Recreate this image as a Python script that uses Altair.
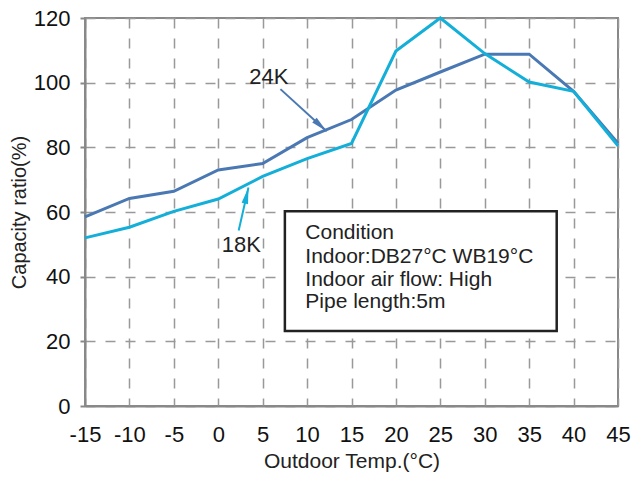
import math
import altair as alt
import pandas as pd

# ---- data ----
temps = [-15, -10, -5, 0, 5, 10, 15, 20, 25, 30, 35, 40, 45]
cap_24k = [58.5, 64.2, 66.4, 73.0, 75.0, 83.0, 88.6, 97.7, 103.3, 108.8, 108.8, 97.3, 81.3]
cap_18k = [52.0, 55.3, 60.2, 64.0, 71.0, 76.5, 81.2, 109.8, 120.0, 109.0, 100.2, 97.3, 80.5]
series_names = ["24K", "18K"]
series_colors = ["#4a78b3", "#14afd8"]
x_ticks = list(range(-15, 50, 5))
y_ticks = list(range(0, 140, 20))

# annotation arrows (data units)
arrow_tail_x = [7.0, 2.3]
arrow_tail_y = [98.0, 54.3]
arrow_tip_x = [12.2, 3.4]
arrow_tip_y = [85.0, 67.6]
label_x = [5.7, 2.6]
label_y = [101.6, 49.7]

# condition box
condition_lines = ["Condition", "Indoor:DB27°C WB19°C", "Indoor air flow: High", "Pipe length:5m"]
box_x = [7.5, 38.1]
box_y = [23.2, 60.2]
text_x = 9.8
text_y = [51.8, 44.1, 37.0, 30.2]

W, H = 533, 388
FONT = "Liberation Sans"

xs = alt.Scale(domain=[-15, 45], nice=False, zero=False)
ys = alt.Scale(domain=[0, 120], nice=False)
cs = alt.Scale(domain=series_names, range=series_colors)

rows = []
for t, a, b in zip(temps, cap_24k, cap_18k):
    rows.append({"t": t, "v": a, "s": "24K"})
    rows.append({"t": t, "v": b, "s": "18K"})
df = pd.DataFrame(rows)

shaft_rows, head_rows, label_rows = [], [], []
for i, s in enumerate(series_names):
    shaft_rows.append({"x": arrow_tail_x[i], "y": arrow_tail_y[i], "s": s, "o": 0})
    shaft_rows.append({"x": arrow_tip_x[i], "y": arrow_tip_y[i], "s": s, "o": 1})
    dx = (arrow_tip_x[i] - arrow_tail_x[i]) * W / 60
    dy = -(arrow_tip_y[i] - arrow_tail_y[i]) * H / 120
    ang = math.degrees(math.atan2(dx, -dy)) % 360
    head_rows.append({"x": arrow_tip_x[i], "y": arrow_tip_y[i], "s": s, "a": ang})
    label_rows.append({"x": label_x[i], "y": label_y[i], "s": s})
shaft_df = pd.DataFrame(shaft_rows)
head_df = pd.DataFrame(head_rows)
label_df = pd.DataFrame(label_rows)

box_df = pd.DataFrame({"x": [box_x[0]], "x2": [box_x[1]], "y": [box_y[0]], "y2": [box_y[1]]})
text_df = pd.DataFrame({"x": [text_x] * len(condition_lines), "y": text_y, "txt": condition_lines})

x_axis = alt.Axis(values=x_ticks, title="Outdoor Temp.(°C)", grid=True, gridDash=[10, 10],
                  gridColor="#999999", gridWidth=1.5, tickSize=0, labelPadding=18,
                  labelFontSize=22, titleFontSize=21, titlePadding=5, labelFlush=False,
                  labelExpr="toString(datum.value)")
y_axis = alt.Axis(values=y_ticks, title="Capacity ratio(%)", grid=True, gridDash=[10, 10],
                  gridColor="#999999", gridWidth=1.5, tickSize=5, tickColor="#888888",
                  tickWidth=2, labelPadding=10, labelFontSize=22, titleFontSize=20,
                  titlePadding=4, labelFlush=False)

base_x = alt.X("x:Q", scale=xs, axis=x_axis)
base_y = alt.Y("y:Q", scale=ys, axis=y_axis)

box = alt.Chart(box_df).mark_rect(fill="white", stroke="#222222", strokeWidth=2.5).encode(
    x=base_x, x2="x2:Q", y=base_y, y2="y2:Q")

box_text = alt.Chart(text_df).mark_text(align="left", baseline="alphabetic", fontSize=21,
                                        font=FONT, color="#222222").encode(
    x=alt.X("x:Q", scale=xs), y=alt.Y("y:Q", scale=ys), text="txt:N")

lines = alt.Chart(df).mark_line(strokeWidth=3).encode(
    x=alt.X("t:Q", scale=xs), y=alt.Y("v:Q", scale=ys),
    color=alt.Color("s:N", scale=cs, legend=None))

shafts = alt.Chart(shaft_df).mark_line(strokeWidth=2).encode(
    x=alt.X("x:Q", scale=xs), y=alt.Y("y:Q", scale=ys), order="o:Q",
    color=alt.Color("s:N", scale=cs, legend=None))

heads = alt.Chart(head_df).mark_point(shape="M0,0L0.4,2L-0.4,2Z", filled=True, size=270,
                                      opacity=1).encode(
    x=alt.X("x:Q", scale=xs), y=alt.Y("y:Q", scale=ys),
    angle=alt.Angle("a:Q", scale=None),
    color=alt.Color("s:N", scale=cs, legend=None))

labels = alt.Chart(label_df).mark_text(fontSize=22, font=FONT, color="#222222",
                                       align="center", baseline="middle").encode(
    x=alt.X("x:Q", scale=xs), y=alt.Y("y:Q", scale=ys), text="s:N")

chart = alt.layer(box, box_text, lines, shafts, heads, labels).properties(
    width=W, height=H,
    padding={"left": 77, "top": 10, "right": 13, "bottom": 68},
    autosize=alt.AutoSizeParams(type="none"),
).configure_view(stroke="#888888", strokeWidth=2).configure_axis(
    domainColor="#888888", domainWidth=2, labelFont=FONT, titleFont=FONT,
    labelColor="#111111", titleColor="#222222", titleFontWeight="normal"
)

chart.save("out.html", embed_options={"renderer": "svg", "actions": False})
